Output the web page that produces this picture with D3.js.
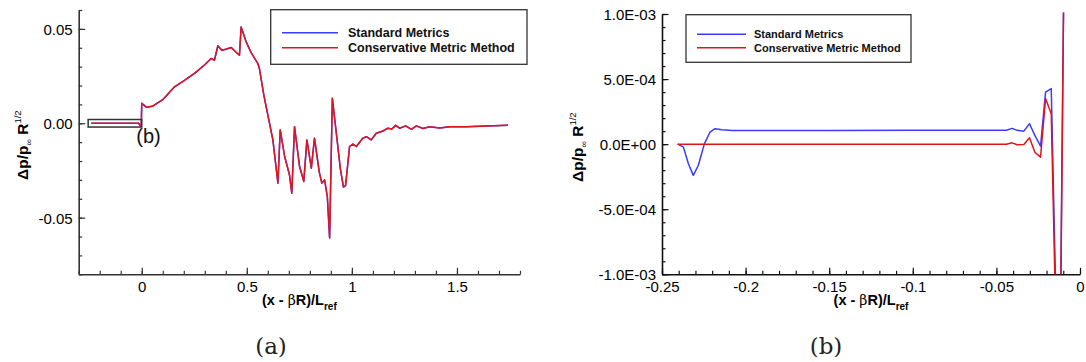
<!DOCTYPE html>
<html>
<head>
<meta charset="utf-8">
<script src="https://cdn.jsdelivr.net/npm/d3@7"></script>
<style>
  body { margin: 0; background: #fff; }
  text { font-family: "Liberation Sans", Arial, Helvetica, sans-serif; }
</style>
</head>
<body>
<div id="chart-area"></div>
<script>
// --> DATA
// panel (a): full signal
var leftX = [-0.24, -0.015, -0.006, -0.002, 0.0, 0.012, 0.022, 0.05, 0.1, 0.156, 0.2, 0.251, 0.3, 0.33,
  0.346, 0.362, 0.381, 0.4, 0.426, 0.45, 0.465, 0.473, 0.497, 0.52, 0.552, 0.56, 0.581, 0.592, 0.624,
  0.648, 0.659, 0.68, 0.703, 0.714, 0.727, 0.751, 0.771, 0.786, 0.807, 0.822, 0.845, 0.857, 0.87,
  0.883, 0.894, 0.907, 0.926, 0.945, 0.96, 0.97, 0.989, 1.005, 1.021, 1.052, 1.069, 1.092, 1.116,
  1.148, 1.171, 1.19, 1.208, 1.227, 1.256, 1.283, 1.307, 1.338, 1.37, 1.418, 1.465, 1.545, 1.64, 1.743];
var leftStd = [0, 0, -0.0014, 0, 0.0106, 0.0095, 0.0085, 0.009, 0.0125, 0.0193, 0.0225, 0.0264, 0.031, 0.0343,
  0.0334, 0.041, 0.0387, 0.0392, 0.0401, 0.0375, 0.036, 0.051, 0.0431, 0.0375, 0.0317, 0.029, 0.0149, 0.0088, -0.0088,
  -0.0317, -0.0035, -0.0176, -0.0273, -0.037, -0.0018, -0.0229, -0.0308, -0.0088, -0.0238, -0.0079, -0.026, -0.0317, -0.030,
  -0.0387, -0.0607, 0.0132, -0.0053, -0.024, -0.0338, -0.033, -0.0123, -0.011, -0.0123, -0.0079, -0.0071, -0.0088, -0.0053,
  -0.0041, -0.0026, -0.003, -0.0011, -0.0026, -0.0014, -0.0032, -0.0014, -0.0028, -0.0018, -0.0025, -0.0018, -0.0018, -0.0014, -0.001];
var leftCons = leftStd.slice();

// panel (b): zoom on the region ahead of the signal
var rightX = [-0.2406, -0.2372, -0.2342, -0.2313, -0.2283, -0.2247, -0.2213, -0.2183, -0.2142, -0.2080, -0.1500,
  -0.1000, -0.0440, -0.0406, -0.0376, -0.0336, -0.0302, -0.0270, -0.0236, -0.0206, -0.0172, -0.0125, -0.0098];
var rightStd = [0, -0.23e-4, -1.5e-4, -2.4e-4, -1.64e-4, 0, 0.93e-4, 1.19e-4, 1.1e-4, 1.05e-4, 1.05e-4,
  1.06e-4, 1.07e-4, 1.21e-4, 1.06e-4, 1.0e-4, 1.57e-4, 0.67e-4, -0.15e-4, 4.0e-4, 4.27e-4, -2.3e-3, 1.1e-3];
var rightCons = [0, 0, 0, 0, 0, 0, 0, 0, 0, 0, 0,
  0, 0, 0.1e-4, -0.05e-4, -0.03e-4, 0.49e-4, -0.62e-4, -1.0e-4, 3.5e-4, 2.34e-4, -2.5e-3, 1.1e-3];

var seriesNames = ["Standard Metrics", "Conservative Metric Method"];
var seriesColors = ["#3b3bff", "#e0141c"];

var leftYTicks = [-0.05, 0, 0.05];
var leftYLabels = ["-0.05", "0.00", "0.05"];
var leftXTicks = [0, 0.5, 1, 1.5];
var leftXLabels = ["0", "0.5", "1", "1.5"];
var rightYTicks = [-1e-3, -5e-4, 0, 5e-4, 1e-3];
var rightYLabels = ["-1.0E-03", "-5.0E-04", "0.0E+00", "5.0E-04", "1.0E-03"];
var rightXTicks = [-0.25, -0.2, -0.15, -0.1, -0.05, 0];
var rightXLabels = ["-0.25", "-0.2", "-0.15", "-0.1", "-0.05", "0"];

// --> SVG
var width = 1086, height = 362;
var svg = d3.select("#chart-area").append("svg")
  .attr("width", width)
  .attr("height", height);

function minorRange(a, b, step) {
  return d3.range(Math.round(a / step), Math.round(b / step) + 1).map(function(i) { return +(i * step).toFixed(6); });
}

function drawPanel(opt) {
  var x = d3.scaleLinear().domain(opt.xDomain).range([opt.left, opt.right]);
  var y = d3.scaleLinear().domain(opt.yDomain).range([opt.bottom, opt.top]);
  var g = svg.append("g");

  var clipId = "clip-" + opt.id;
  g.append("clipPath").attr("id", clipId)
    .append("rect")
    .attr("x", opt.left).attr("y", opt.top - 1.5)
    .attr("width", opt.right - opt.left).attr("height", opt.bottom - opt.top + 1.5);

  // minor ticks
  g.append("g").attr("transform", "translate(0," + opt.bottom + ")")
    .call(d3.axisBottom(x).tickValues(minorRange(opt.xDomain[0], opt.xDomain[1], opt.xMinor))
      .tickSize(-3.5).tickSizeOuter(0).tickFormat(""))
    .call(function(a) { a.select(".domain").remove(); });
  g.append("g").attr("transform", "translate(" + opt.left + ",0)")
    .call(d3.axisLeft(y).tickValues(minorRange(opt.yDomain[0], opt.yDomain[1], opt.yMinor))
      .tickSize(-3.5).tickSizeOuter(0).tickFormat(""))
    .call(function(a) { a.select(".domain").remove(); });

  // major ticks
  var xa = g.append("g").attr("transform", "translate(0," + opt.bottom + ")")
    .call(d3.axisBottom(x).tickValues(opt.xTicks).tickSize(-6.5).tickSizeOuter(0).tickPadding(7)
      .tickFormat(function(d, i) { return opt.xLabels[i]; }));
  var ya = g.append("g").attr("transform", "translate(" + opt.left + ",0)")
    .call(d3.axisLeft(y).tickValues(opt.yTicks).tickSize(-6.5).tickSizeOuter(0).tickPadding(6)
      .tickFormat(function(d, i) { return opt.yLabels[i]; }));
  [xa, ya].forEach(function(a) {
    a.selectAll("text").attr("font-size", 15).attr("fill", "#000")
      .style("font-family", "'Liberation Sans', Arial, sans-serif");
  });
  ya.selectAll("text").attr("dy", "0.36em");
  xa.selectAll("text").attr("dy", "0.71em");
  g.selectAll(".tick line").attr("stroke", opt.axisColor).attr("stroke-width", 1.2);
  g.selectAll(".domain").attr("stroke", opt.axisColor).attr("stroke-width", 1.6);

  // lines
  var lg = g.append("g").attr("clip-path", "url(#" + clipId + ")");
  [opt.std, opt.cons].forEach(function(vals, k) {
    var line = d3.line()
      .x(function(d, i) { return x(opt.xs[i]); })
      .y(function(d) { return y(d); });
    lg.append("path")
      .datum(vals)
      .attr("d", line)
      .attr("fill", "none")
      .attr("stroke", seriesColors[k])
      .attr("stroke-width", 1.5)
      .attr("stroke-linejoin", "round");
  });

  // x label
  var xl = g.append("text")
    .attr("x", (opt.left + opt.right) / 2)
    .attr("y", opt.bottom + 31)
    .attr("text-anchor", "middle")
    .attr("font-size", 14.5)
    .attr("font-weight", "bold");
  xl.append("tspan").text("(x - ");
  xl.append("tspan").attr("font-weight", "normal").style("font-family", "'DejaVu Serif', serif").attr("font-size", 14).text("β");
  xl.append("tspan").text("R)/L");
  xl.append("tspan").attr("font-size", 10).attr("dy", 5).text("ref");

  // y label
  var yl = g.append("text")
    .attr("transform", "translate(" + opt.yLabelX + "," + ((opt.top + opt.bottom) / 2 + 3) + ") rotate(-90)")
    .attr("text-anchor", "middle")
    .attr("font-size", 15.5)
    .attr("font-weight", "bold");
  yl.append("tspan").text("Δp/p");
  yl.append("tspan").attr("font-size", 9).attr("font-weight", "normal").attr("dy", 4).text("∞");
  yl.append("tspan").attr("dy", -4).text(" R");
  yl.append("tspan").attr("font-size", 9.5).attr("font-weight", "normal").attr("dy", -7).text("1/2");

  // legend
  var L = opt.legend;
  g.append("rect")
    .attr("x", L.x0).attr("y", L.y0)
    .attr("width", L.x1 - L.x0).attr("height", L.y1 - L.y0)
    .attr("fill", "#fff").attr("stroke", "#333").attr("stroke-width", 1.3);
  seriesNames.forEach(function(name, k) {
    var ly = L.rows[k];
    g.append("line")
      .attr("x1", L.lx0).attr("x2", L.lx1)
      .attr("y1", ly).attr("y2", ly)
      .attr("stroke", seriesColors[k]).attr("stroke-width", 1.5);
    g.append("text")
      .attr("x", L.tx).attr("y", ly + L.fs * 0.36)
      .attr("font-size", L.fs).attr("font-weight", "bold").attr("fill", "#111")
      .text(name);
  });

  return { x: x, y: y, g: g };
}

var pa = drawPanel({
  id: "a", left: 78.7, right: 520, top: 10, bottom: 274.3,
  xDomain: [-0.3, 1.8], yDomain: [-0.08, 0.06], xMinor: 0.1, yMinor: 0.01,
  xTicks: leftXTicks, xLabels: leftXLabels, yTicks: leftYTicks, yLabels: leftYLabels,
  xs: leftX, std: leftStd, cons: leftCons, axisColor: "#333", yLabelX: 27.5,
  legend: { x0: 270.7, x1: 527, y0: 9.7, y1: 64.3, lx0: 282, lx1: 338, tx: 348, rows: [32.7, 47.7], fs: 12.5 }
});

var pb = drawPanel({
  id: "b", left: 662, right: 1080, top: 14, bottom: 274.3,
  xDomain: [-0.25, 0], yDomain: [-1e-3, 1e-3], xMinor: 0.01, yMinor: 1e-4,
  xTicks: rightXTicks, xLabels: rightXLabels, yTicks: rightYTicks, yLabels: rightYLabels,
  xs: rightX, std: rightStd, cons: rightCons, axisColor: "#111", yLabelX: 583,
  legend: { x0: 686, x1: 911, y0: 14.7, y1: 62.3, lx0: 697, lx1: 746, tx: 754, rows: [34.3, 47.7], fs: 11 }
});

// zoom box marking panel (b) in panel (a)
var box = { x0: -0.255, x1: 0, y0: -0.002, y1: 0.002 };
pa.g.append("rect")
  .attr("x", pa.x(box.x0)).attr("y", pa.y(box.y1))
  .attr("width", pa.x(box.x1) - pa.x(box.x0))
  .attr("height", pa.y(box.y0) - pa.y(box.y1))
  .attr("fill", "none").attr("stroke", "#333").attr("stroke-width", 1.5);
pa.g.append("text")
  .attr("x", pa.x(box.x1) - 5.5).attr("y", pa.y(box.y0) + 16)
  .attr("font-size", 20).attr("fill", "#111")
  .text("(b)");

// captions
[["(a)", 271], ["(b)", 826]].forEach(function(c) {
  svg.append("text")
    .attr("x", c[1]).attr("y", 354)
    .attr("text-anchor", "middle")
    .attr("font-size", 23)
    .style("font-family", "'DejaVu Serif', serif")
    .attr("fill", "#222")
    .text(c[0]);
});
</script>
</body>
</html>
